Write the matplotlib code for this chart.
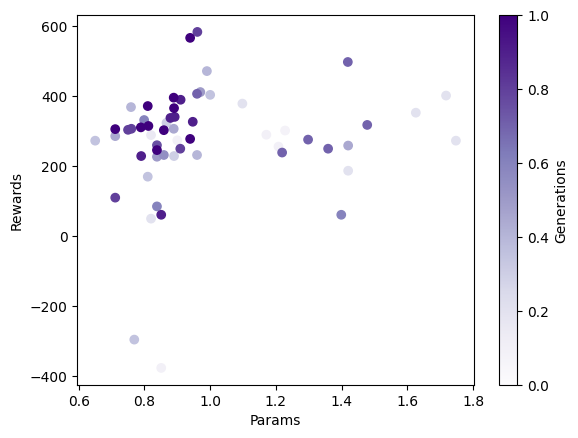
import numpy as np
import matplotlib
matplotlib.use("Agg")
import matplotlib.pyplot as plt

# params, rewards and generation (normalised)
params = [0.961, 0.939, 0.990, 0.970, 0.960, 1.000, 1.098, 0.759, 0.810, 0.889,
          0.910, 0.890, 0.799, 0.879, 0.892, 0.867, 0.947, 0.711, 0.711, 0.750,
          0.760, 0.789, 0.812, 0.859, 0.889, 0.820, 0.900, 0.939, 0.838, 0.838,
          0.838, 0.859, 0.790, 0.890, 0.909, 0.960, 0.810, 0.711, 0.838, 0.851,
          0.820, 0.769, 0.851, 0.650, 1.419, 1.718, 1.626, 1.171, 1.228, 1.208,
          1.219, 1.298, 1.359, 1.478, 1.420, 1.748, 1.420, 1.399]
rewards = [584, 567, 472, 412, 407, 404, 379, 369, 372, 396,
           390, 366, 332, 338, 341, 324, 327, 306, 286, 304,
           307, 311, 315, 303, 307, 289, 274, 278, 260, 246,
           227, 232, 229, 229, 250, 232, 170, 110, 85, 61,
           50, -296, -377, 273, 498, 402, 353, 290, 302, 256,
           239, 276, 250, 318, 259, 273, 187, 61]
generations = [0.8, 1.0, 0.4, 0.5, 0.7, 0.35, 0.2, 0.4, 1.0, 1.0,
               0.9, 1.0, 0.6, 0.9, 0.9, 0.3, 0.9, 1.0, 0.45, 0.8,
               0.8, 1.0, 1.0, 1.0, 0.45, 0.15, 0.1, 1.0, 0.75, 1.0,
               0.5, 0.55, 0.9, 0.3, 0.8, 0.4, 0.35, 0.8, 0.6, 0.9,
               0.2, 0.35, 0.1, 0.35, 0.7, 0.2, 0.2, 0.1, 0.08, 0.1,
               0.7, 0.7, 0.7, 0.7, 0.45, 0.2, 0.2, 0.6]

# draw older generations first so newer ones sit on top
order = np.argsort(generations, kind="stable")
x = np.array(params)[order]
y = np.array(rewards)[order]
c = np.array(generations)[order]

fig, ax = plt.subplots(figsize=(6.4, 4.8), dpi=100)
sc = ax.scatter(x, y, c=c, cmap="Purples", vmin=0, vmax=1)
cbar = fig.colorbar(sc, ax=ax)
cbar.set_label("Generations")

ax.set_xlabel("Params")
ax.set_ylabel("Rewards")
ax.set_xticks([0.6, 0.8, 1.0, 1.2, 1.4, 1.6, 1.8])

fig.savefig("out.png", dpi=100, bbox_inches="tight")
